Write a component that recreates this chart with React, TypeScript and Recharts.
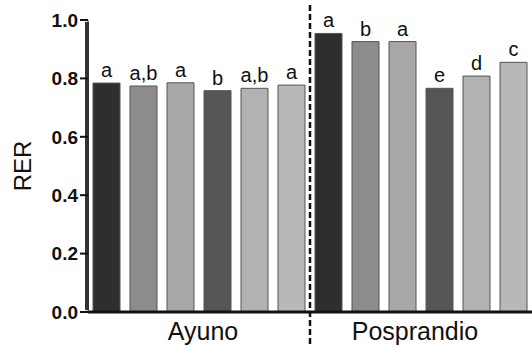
import { BarChart, Bar, XAxis, YAxis, Cell, LabelList, ReferenceLine } from "recharts";

const barIds = ["A1", "A2", "A3", "A4", "A5", "A6", "P1", "P2", "P3", "P4", "P5", "P6"];
const rer = [0.784, 0.774, 0.785, 0.758, 0.766, 0.777, 0.954, 0.926, 0.926, 0.766, 0.808, 0.855];
const letters = ["a", "a,b", "a", "b", "a,b", "a", "a", "b", "a", "e", "d", "c"];
const yTicks = [0, 0.2, 0.4, 0.6, 0.8, 1.0];

// group name sits on the right edge of the 3rd bar of each group
const groupLabels: Record<string, string> = { A3: "Ayuno", P3: "Posprandio" };
const splitAfter = "A6";

const shades = ["#2e2e2e", "#8c8c8c", "#a8a8a8", "#555555", "#b2b2b2", "#b8b8b8"];

const rows = barIds.map((id, i) => ({ id, rer: rer[i], sig: letters[i] }));

const font = "Arial, 'Liberation Sans', sans-serif";

function GroupTick(props: any) {
  const { x, y, payload } = props;
  const label = groupLabels[payload.value];
  if (!label) return null;
  const half = payload.offset ?? 18.5;
  const nudge = label === "Ayuno" ? 4 : -6;
  return (
    <text x={x + half + nudge} y={y + 20} textAnchor="middle" fontFamily={font} fontSize={25} fill="#111">
      {label}
    </text>
  );
}

function SplitLine(props: any) {
  const { x1 } = props;
  return <line x1={x1} x2={x1} y1={5} y2={347} stroke="#111" strokeWidth={2.5} strokeDasharray="6 3" />;
}

// thick y axis line on the left edge of the first band
function AxisLine(props: any) {
  const { x1, y1, y2 } = props;
  return <path d={`M${x1 - 1},${y1 - 2}V${y2 + 2}`} stroke="#333" strokeWidth={4} fill="none" />;
}

export default function App() {
  return (
    <div style={{ position: "absolute", left: 0, top: 0, background: "#fff" }}>
      <BarChart width={532} height={347} data={rows} margin={{ top: 20, right: 0, left: 0, bottom: 0 }} barCategoryGap={5}>
        <XAxis dataKey="id" interval={0} tick={<GroupTick />} tickLine={false} axisLine={{ stroke: "#111", strokeWidth: 3 }} height={35} />
        <YAxis
          domain={[0, 1]}
          ticks={yTicks}
          width={88}
          stroke="#333"
          axisLine
          tickFormatter={(v: number) => v.toFixed(1)}
          tick={{ fontFamily: font, fontSize: 19, fontWeight: "bold", fill: "#111" }}
          tickLine={{ stroke: "#111", strokeWidth: 2 }}
          tickSize={8}
          label={{ value: "RER", angle: -90, position: "insideLeft", offset: 22, style: { fontFamily: font, fontSize: 24, fill: "#111", textAnchor: "middle" } }}
        />
        <Bar dataKey="rer" isAnimationActive={false} stroke="#555" strokeWidth={1}>
          {rows.map((r, i) => (
            <Cell key={r.id} fill={shades[i % shades.length]} />
          ))}
          <LabelList dataKey="sig" position="top" offset={6} style={{ fontFamily: font, fontSize: 20, fill: "#111" }} />
        </Bar>
        <ReferenceLine x="A1" position="start" ifOverflow="visible" shape={<AxisLine />} />
        <ReferenceLine x={splitAfter} position="end" ifOverflow="visible" shape={<SplitLine />} />
      </BarChart>
    </div>
  );
}
